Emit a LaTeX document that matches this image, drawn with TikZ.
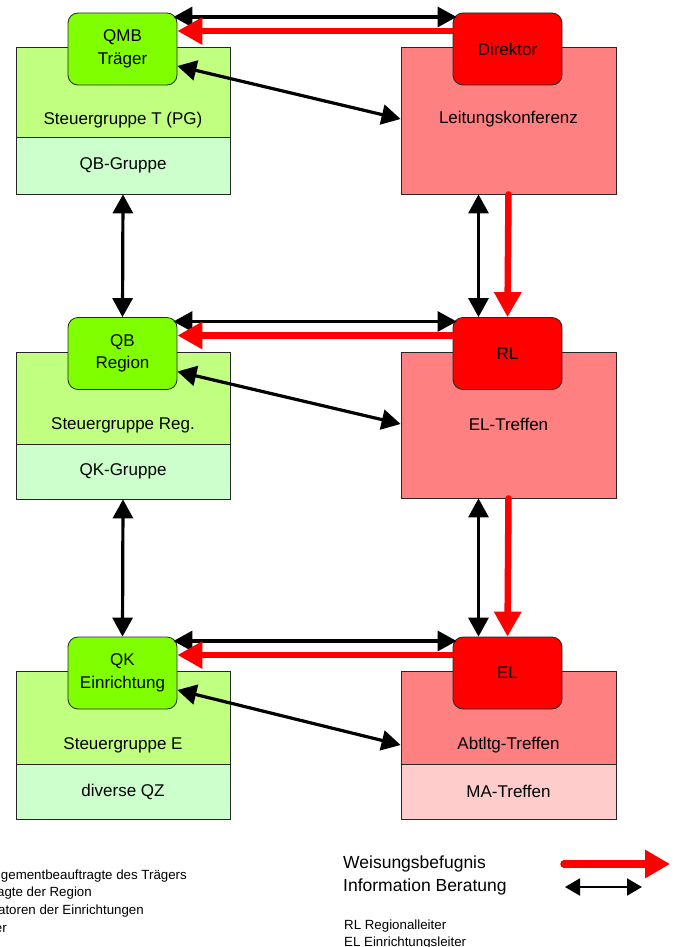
\documentclass[tikz,border=0pt]{standalone}
\usepackage{fontspec}
\setmainfont{Liberation Sans}
\usepackage{tikz}
\usetikzlibrary{arrows.meta, calc, positioning}
\usepackage{xcolor}
\definecolor{gruenhell}{HTML}{C0FF80}
\definecolor{mint}{HTML}{CCFFCC}
\definecolor{gruen}{HTML}{80FF00}
\definecolor{rosa}{HTML}{FF8080}
\definecolor{rosahell}{HTML}{FFCCCC}
\tikzset{
  kasten/.style={draw=black!85, line width=0.8pt, minimum width=214pt, inner sep=0pt, font=\fontsize{17}{21}\selectfont},
  oben/.style={draw=black!85, line width=0.8pt, rounded corners=10pt, minimum width=109pt, minimum height=72pt, inner sep=0pt, align=center, font=\fontsize{17}{22.5}\selectfont},
  txt/.style={inner sep=0pt, font=\fontsize{17}{21}\selectfont},
  info/.style={{Triangle[length=19pt,width=20pt]}-{Triangle[length=19pt,width=20pt]}, line width=3.2pt},
  weisung/.style={-{Triangle[length=25pt,width=26pt]}, line width=6.5pt, red},
  legende/.style={anchor=base west, inner sep=0pt, font=\fontsize{17.5}{21}\selectfont},
  klein/.style={inner sep=0pt, font=\fontsize{13.3}{16}\selectfont},
}

\begin{document}
\begin{tikzpicture}[x=1pt, y=-1pt]
    \useasboundingbox (0,0) rectangle (678,947);

    % Traeger
    \node[kasten, fill=gruenhell, minimum height=90pt] (sgT) at (123,92) {};
    \node[kasten, fill=mint, minimum height=57pt] (qbg) at (123,165.5) {QB-Gruppe};
    \node[kasten, fill=rosa, minimum width=215pt, minimum height=147pt] (lk) at (508.5,120.5) {};
    \node[oben, fill=gruen] (qmb) at (122.5,49) {QMB\\Träger};
    \node[oben, fill=red] (dir) at (507.5,49) {Direktor};
    \node[txt] (sgTtxt) at (123,120) {Steuergruppe T (PG)};
    \node[txt] (lktxt) at (508.5,119) {Leitungskonferenz};

    % Region
    \node[kasten, fill=gruenhell, minimum height=92pt] (sgR) at (123,398) {};
    \node[kasten, fill=mint, minimum height=55pt] (qkg) at (123,471.5) {QK-Gruppe};
    \node[kasten, fill=rosa, minimum width=215pt, minimum height=146pt] (elt) at (508.5,425) {};
    \node[oben, fill=gruen] (qbr) at (122.5,353.5) {QB\\Region};
    \node[oben, fill=red] (rl) at (507.5,353.5) {RL};
    \node[txt] (sgRtxt) at (123,425) {Steuergruppe Reg.};
    \node[txt] (elttxt) at (508.5,424) {EL-Treffen};

    % Einrichtung
    \node[kasten, fill=gruenhell, minimum height=93pt] (sgE) at (123,717.5) {};
    \node[kasten, fill=mint, minimum height=55pt] (qz) at (123,791.5) {diverse QZ};
    \node[kasten, fill=rosa, minimum width=215pt, minimum height=93pt] (abt) at (508.5,717.5) {};
    \node[kasten, fill=rosahell, minimum width=215pt, minimum height=55pt] (ma) at (508.5,791.5) {MA-Treffen};
    \node[oben, fill=gruen] (qk) at (122.5,673) {QK\\Einrichtung};
    \node[oben, fill=red] (el) at (507.5,673) {EL};
    \node[txt] (sgEtxt) at (123,745) {Steuergruppe E};
    \node[txt] (abttxt) at (508.5,745) {Abtltg-Treffen};

    % Pfeile oben
    \draw[info] ([shift={(-4pt,32pt)}]qmb.east) -- ([shift={(4pt,32pt)}]dir.west);
    \draw[weisung] ([yshift=18pt]dir.west) -- ([yshift=18pt]qmb.east);
    \draw[info] ([yshift=-17pt]qmb.east) -- (lk.west |- lktxt);
    \draw[info] (qbg.south) -- (qbr.north);
    \draw[info] ([xshift=-30pt]lk.south) -- ([xshift=-29pt]rl.north);
    \draw[weisung, line cap=round] (lk.south) -- (rl.north);

    % Pfeile Mitte
    \draw[info] ([shift={(-4pt,32pt)}]qbr.east) -- ([shift={(4pt,32pt)}]rl.west);
    \draw[weisung] ([yshift=18pt]rl.west) -- ([yshift=18pt]qbr.east);
    \draw[info] ([yshift=-18pt]qbr.east) -- (elt.west |- elttxt);
    \draw[info] (qkg.south) -- (qk.north);
    \draw[info] ([xshift=-30pt]elt.south) -- ([xshift=-29pt]el.north);
    \draw[weisung, line cap=round] (elt.south) -- (el.north);

    % Pfeile unten
    \draw[info] ([shift={(-4pt,32pt)}]qk.east) -- ([shift={(4pt,32pt)}]el.west);
    \draw[weisung] ([yshift=18pt]el.west) -- ([yshift=18pt]qk.east);
    \draw[info] ([yshift=-17pt]qk.east) -- (abt.west |- abttxt);

    % Legende
    \node[klein, anchor=base east] (lg1) at (187,879) {gementbeauftragte des Trägers};
    \node[klein, anchor=base east] (lg2) at (92,896) {agte der Region};
    \node[klein, anchor=base east] (lg3) at (144,914) {atoren der Einrichtungen};
    \node[klein, anchor=base east] (lg4) at (7,932) {er};

    \node[legende] (wtxt) at (343,868) {Weisungsbefugnis};
    \node[legende] (itxt) at (343,891) {Information Beratung};
    \node[klein, anchor=base west] (rltxt) at (344,929) {RL Regionalleiter};
    \node[klein, anchor=base west] (eltxt) at (344,946) {EL Einrichtungsleiter};

    \coordinate (wA) at (564,864);
    \coordinate (wB) at (670,864);
    \draw[weisung, line width=7.5pt, line cap=round, -{Triangle[length=25pt,width=27pt]}] (wA) -- (wB);
    \coordinate (iA) at (565,887);
    \coordinate (iB) at (642,887);
    \draw[info, line width=2pt, {Triangle[length=15pt,width=17pt]}-{Triangle[length=15pt,width=17pt]}] (iA) -- (iB);
\end{tikzpicture}
\end{document}
